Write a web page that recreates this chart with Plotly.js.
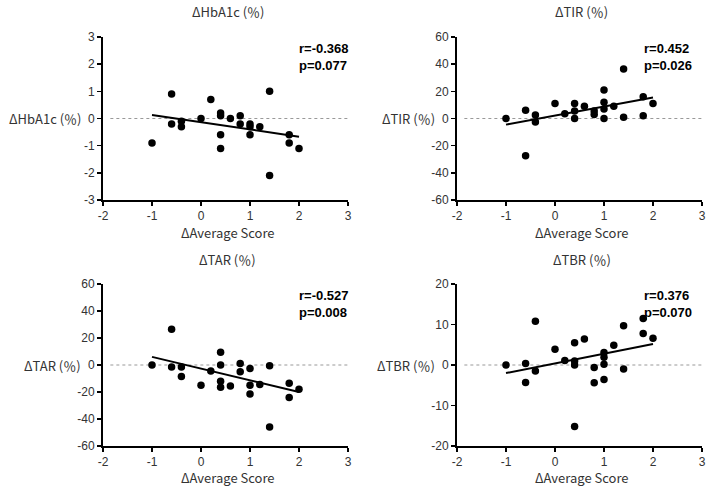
<!DOCTYPE html>
<html>
<head>
<meta charset="utf-8">
<script src="https://cdn.plot.ly/plotly-3.0.1.min.js"></script>
<style>html,body{margin:0;padding:0;background:#fff;}#chart{width:708px;height:488px;}</style>
</head>
<body>
<div id="chart"></div>
<script>
// ---- Data ----
const hba1cX = [-1.0,-0.6,-0.6,-0.4,-0.4,0.0,0.2,0.4,0.4,0.4,0.4,0.6,0.8,0.8,1.0,1.0,1.0,1.2,1.4,1.4,1.8,1.8,2.0];
const hba1cY = [-0.9,0.9,-0.2,-0.1,-0.3,0.0,0.7,0.2,0.1,-0.6,-1.1,0.0,0.1,-0.2,-0.2,-0.3,-0.6,-0.3,1.0,-2.1,-0.6,-0.9,-1.1];

const tirX = [-1.0,-0.6,-0.6,-0.4,-0.4,0.0,0.2,0.4,0.4,0.4,0.6,0.8,0.8,1.0,1.0,1.0,1.0,1.2,1.4,1.4,1.8,1.8,2.0];
const tirY = [0,6,-27.5,2.5,-2.5,11,3.5,11,5.5,0,9,5.5,3,21,12,7,0,9,36.5,1,16,2,11];

const tarX = [-1.0,-0.6,-0.6,-0.4,-0.4,0.0,0.2,0.4,0.4,0.4,0.4,0.6,0.8,0.8,1.0,1.0,1.0,1.2,1.4,1.4,1.8,1.8,2.0];
const tarY = [0,26.5,-1.5,-1.5,-8.5,-15,-4.5,9.5,0,-12,-16.5,-15.5,1.2,-5,-2.5,-15,-21.5,-14.5,-0.5,-46,-13.5,-24,-18];

const tbrX = [-1.0,-0.6,-0.6,-0.4,-0.4,0.0,0.2,0.4,0.4,0.4,0.4,0.6,0.8,0.8,1.0,1.0,1.0,1.0,1.2,1.4,1.4,1.8,1.8,2.0];
const tbrY = [0,0.4,-4.3,10.8,-1.5,3.9,1.1,5.5,1.0,0,-15.2,6.4,-0.6,-4.4,3.1,1.9,0.2,-3.6,4.9,9.7,-1.0,11.5,7.8,6.6];

// Regression line endpoints (x = -1 and x = 2)
const fitX = [-1, 2];
const hba1cFit = [0.13, -0.67];
const tirFit = [-4.5, 15.5];
const tarFit = [6, -20];
const tbrFit = [-2.0, 5.2];

// Tick values / labels
const xTicks = [-2, -1, 0, 1, 2, 3];
const yTicksList = [[-3,-2,-1,0,1,2,3],[-60,-40,-20,0,20,40,60],[-60,-40,-20,0,20,40,60],[-20,-10,0,10,20]];

const panelTitles = ["ΔHbA1c (％)", "ΔTIR (％)", "ΔTAR (％)", "ΔTBR (％)"];
const yLabels = ["ΔHbA1c (％)", "ΔTIR (％)", "ΔTAR (％)", "ΔTBR (％)"];
const xLabel = "ΔAverage Score";
const rTexts = ["r=-0.368", "r=0.452", "r=-0.527", "r=0.376"];
const pTexts = ["p=0.077", "p=0.026", "p=0.008", "p=0.070"];
const yRanges = [[-3,3],[-60,60],[-60,60],[-20,20]];

// ---- Layout geometry ----
const W = 708, H = 488;
const xDoms = [[103/W, 348/W],[457/W, 702/W],[103/W, 348/W],[457/W, 702/W]];
const yDoms = [[1-200/H, 1-37/H],[1-200/H, 1-37/H],[1-446/H, 1-284/H],[1-446/H, 1-284/H]];

const jp = '"Noto Sans CJK JP", "Noto Sans", sans-serif';
const arial = '"Liberation Sans", Arial, sans-serif';
const txtColor = '#333';

const sets = [[hba1cX,hba1cY,hba1cFit],[tirX,tirY,tirFit],[tarX,tarY,tarFit],[tbrX,tbrY,tbrFit]];
const traces = [];
const layout = {
  width: W, height: H,
  margin: {l:0,r:0,t:0,b:0},
  paper_bgcolor: '#fff', plot_bgcolor: '#fff',
  showlegend: false,
  annotations: [], shapes: []
};
const lbl = v => String(v);  // plain hyphen minus as in the reference

sets.forEach((s, i) => {
  const n = i + 1;
  const xa = n === 1 ? 'x' : 'x' + n;
  const ya = n === 1 ? 'y' : 'y' + n;
  traces.push({
    x: s[0], y: s[1], xaxis: xa, yaxis: ya, type: 'scatter', mode: 'markers',
    marker: {color: '#000', size: 7.5}, cliponaxis: false, hoverinfo: 'skip'
  });
  traces.push({
    x: fitX, y: s[2], xaxis: xa, yaxis: ya, type: 'scatter', mode: 'lines',
    line: {color: '#000', width: 2}, hoverinfo: 'skip'
  });
  const axBase = {
    showgrid: false, zeroline: false, showline: true, linecolor: '#000', linewidth: 2,
    ticks: 'outside', ticklen: 4, tickwidth: 1.5, tickcolor: '#000',
    tickfont: {family: arial, size: 12, color: txtColor}, fixedrange: true
  };
  layout['xaxis' + (n === 1 ? '' : n)] = Object.assign({}, axBase, {
    domain: xDoms[i], range: [-2, 3], tickmode: 'array', tickvals: xTicks,
    ticktext: xTicks.map(lbl), anchor: ya
  });
  layout['yaxis' + (n === 1 ? '' : n)] = Object.assign({}, axBase, {
    domain: yDoms[i], range: yRanges[i], tickmode: 'array', tickvals: yTicksList[i],
    ticktext: yTicksList[i].map(lbl), anchor: xa
  });
  // dotted zero reference line
  layout.shapes.push({
    type: 'line', xref: xa, yref: ya, x0: -1.85, x1: 3, y0: 0, y1: 0,
    line: {color: '#999', width: 1, dash: 'dot'}, layer: 'below'
  });
  const xc = (xDoms[i][0] + xDoms[i][1]) / 2;
  layout.annotations.push({
    text: panelTitles[i], xref: 'paper', yref: 'paper', x: xc + 2/W, y: yDoms[i][1] + 25/H,
    xanchor: 'center', yanchor: 'middle', showarrow: false,
    font: {family: jp, size: 13, color: txtColor}
  });
  layout.annotations.push({
    text: xLabel, xref: 'paper', yref: 'paper', x: xc + 2/W, y: yDoms[i][0] - 32/H,
    xanchor: 'center', yanchor: 'middle', showarrow: false,
    font: {family: jp, size: 13, color: txtColor}
  });
  layout.annotations.push({
    text: yLabels[i], xref: 'paper', yref: ya, x: xDoms[i][0] - 20/W, y: 0,
    xanchor: 'right', yanchor: 'middle', showarrow: false,
    font: {family: jp, size: 13, color: txtColor}
  });
  layout.annotations.push({
    text: '<b>' + rTexts[i] + '</b><br><b>' + pTexts[i] + '</b>',
    xref: 'paper', yref: 'paper', x: xDoms[i][1] - (i % 2 === 0 ? 51 : 60)/W, y: yDoms[i][1] - 2/H,
    xanchor: 'left', yanchor: 'top', align: 'left', showarrow: false,
    font: {family: arial, size: 13, color: '#000'}
  });
});

Plotly.newPlot('chart', traces, layout, {staticPlot: true, displayModeBar: false});
</script>
</body>
</html>
